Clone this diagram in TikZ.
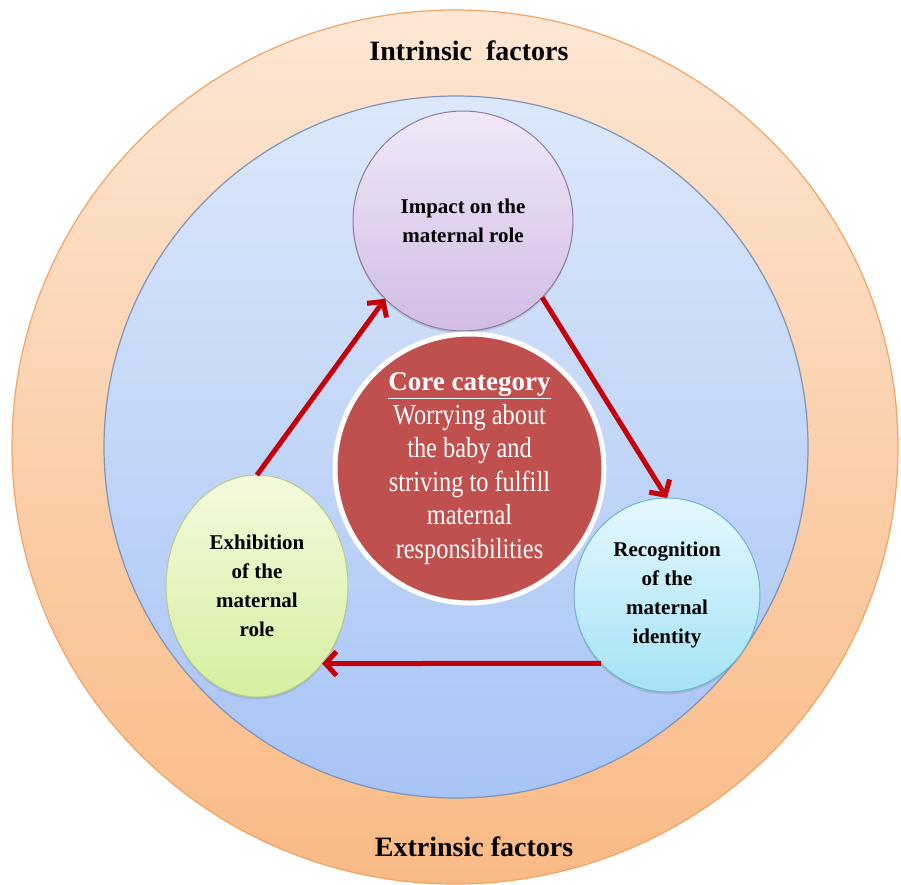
\documentclass[tikz,border=0pt]{standalone}
\usepackage{fontspec}
\setmainfont{Liberation Serif}
\newfontfamily\narrowserif{Liberation Serif}[FakeStretch=0.84]
\usetikzlibrary{shapes.geometric,arrows.meta,shadows}

\definecolor{peachtop}{HTML}{FDE7D4}
\definecolor{peachbot}{HTML}{F9BA85}
\definecolor{peachline}{HTML}{F0A466}
\definecolor{bluetop}{HTML}{DCE8FA}
\definecolor{bluebot}{HTML}{A8C4F6}
\definecolor{blueline}{HTML}{7F93B8}
\definecolor{lilactop}{HTML}{F0E8F7}
\definecolor{lilacbot}{HTML}{D1BCE6}
\definecolor{lilacline}{HTML}{8C7AA0}
\definecolor{corered}{HTML}{C0504D}
\definecolor{limetop}{HTML}{F4FADD}
\definecolor{limebot}{HTML}{D5EFA0}
\definecolor{limeline}{HTML}{B3CC8A}
\definecolor{cyantop}{HTML}{E4F8FD}
\definecolor{cyanbot}{HTML}{A4E2F5}
\definecolor{cyanline}{HTML}{6FB2CC}
\definecolor{arrowred}{HTML}{C40008}

\begin{document}
\begin{tikzpicture}[x=1pt,y=-1pt,
  ring/.style={ellipse, inner sep=0pt, outer sep=0pt, line width=1.2pt},
  theme/.style={ellipse, inner sep=0pt, outer sep=0pt, line width=1pt,
    align=center, text=black, font=\fontsize{21}{29}\selectfont\bfseries,
    drop shadow={opacity=0.25, shadow xshift=0pt, shadow yshift=-2.5pt}},
  heading/.style={inner sep=0pt, font=\fontsize{28}{34}\selectfont\bfseries},
  flow/.style={draw=arrowred, line width=5pt,
    -{Straight Barb[length=11pt,width=24pt]}}
]
\useasboundingbox (0,0) rectangle (901,884);
\fill[white] (0,0) rectangle (901,884);

% outer ring and inner field
\node[ring, draw=peachline, top color=peachtop, bottom color=peachbot,
  minimum width=886pt, minimum height=874pt] (outer) at (455,447) {};
\node[ring, draw=blueline, top color=bluetop, bottom color=bluebot,
  minimum width=704pt, minimum height=702pt] (inner) at (456,447) {};

\node[heading] (intr) at (469,51) {Intrinsic\ \ factors};
\node[heading] (extr) at (474,847) {Extrinsic factors};

% the three themes
\node[theme, draw=lilacline, top color=lilactop, bottom color=lilacbot,
  minimum width=220pt, minimum height=220pt] (imp) at (463,221)
  {Impact on the\\maternal role};
\node[theme, draw=limeline, top color=limetop, bottom color=limebot,
  minimum width=182pt, minimum height=222pt] (exh) at (257,586)
  {Exhibition\\of the\\maternal\\role};
\node[theme, draw=cyanline, top color=cyantop, bottom color=cyanbot,
  minimum width=186pt, minimum height=194pt] (rec) at (667,595)
  {Recognition\\of the\\maternal\\identity};

% core category
\node[circle, draw=white, line width=5pt, fill=corered, inner sep=0pt,
  minimum size=269pt, align=center, text=white,
  font=\narrowserif\fontsize{29}{33.5}\selectfont] (core) at (469.5,468.5)
  {{\normalfont\bfseries\fontsize{27}{33.5}\selectfont\underline{Core category}}\\
   Worrying about\\the baby and\\striving to fulfill\\maternal\\responsibilities};

% cycle between the themes
\draw[flow] (exh.north) -- (imp.225);
\draw[flow] (imp.-44) -- (rec.north);
\draw[flow] (rec.226.7) -- (exh.310);
\end{tikzpicture}
\end{document}
